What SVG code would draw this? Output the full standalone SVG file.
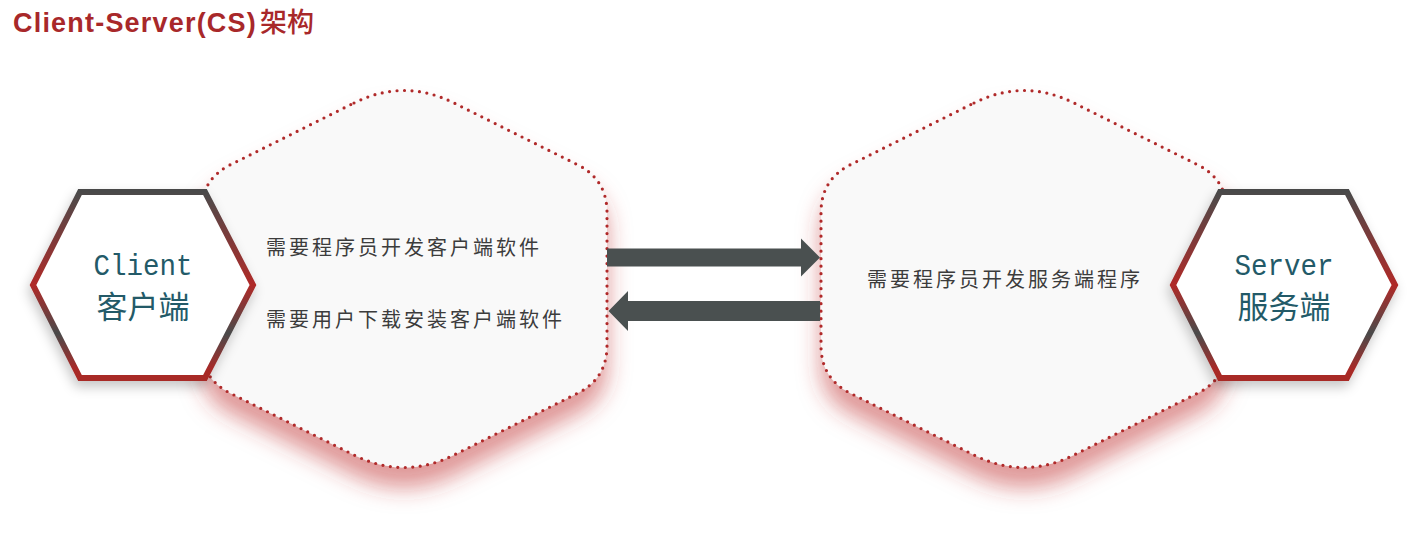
<svg xmlns="http://www.w3.org/2000/svg" width="1417" height="533" viewBox="0 0 1417 533">
  <defs>
    <style>
      .title { font-family: "Liberation Sans", "Noto Sans CJK SC", sans-serif; font-weight: bold; font-size: 27px; fill: #a8282a; }
      .titlecjk { font-family: "Noto Sans CJK SC", sans-serif; font-weight: 500; font-size: 27px; fill: #a8282a; }
      .big { fill: #f9f9f9; stroke: #b02a2a; stroke-width: 3.2; stroke-dasharray: 0 7.5; stroke-linecap: round; filter: url(#redShadow); }
      .hex { fill: #ffffff; stroke: url(#hexGrad); stroke-width: 6; stroke-linejoin: miter; filter: url(#grayShadow); }
      .lat { font-family: "Liberation Mono", "DejaVu Sans Mono", monospace; font-size: 30px; fill: #235a68; }
      .cjk { font-family: "Noto Sans CJK SC", sans-serif; font-size: 31px; fill: #235a68; }
      .desc { font-family: "Noto Sans CJK SC", sans-serif; font-size: 20px; fill: #3c3c3c; letter-spacing: 3px; }
      .arrow { fill: #4a5050; }
    </style>
    <filter id="redShadow" x="-20%" y="-20%" width="140%" height="150%">
      <feDropShadow dx="0" dy="20" stdDeviation="11" flood-color="#c0302f" flood-opacity="0.5"/>
    </filter>
    <filter id="grayShadow" x="-20%" y="-20%" width="140%" height="150%">
      <feDropShadow dx="-2" dy="6" stdDeviation="6" flood-color="#000000" flood-opacity="0.22"/>
    </filter>
    <linearGradient id="hexGrad" gradientUnits="objectBoundingBox" x1="0" y1="0" x2="0" y2="1">
      <stop offset="0" stop-color="#4a4a4a"/>
      <stop offset="0.5" stop-color="#b02a28"/>
      <stop offset="0.76" stop-color="#4a4a4a"/>
      <stop offset="0.95" stop-color="#a82a28"/>
      <stop offset="1" stop-color="#a82a28"/>
    </linearGradient>
  </defs>

  <text class="title" x="13" y="32" letter-spacing="1.2">Client-Server(CS)</text>
  <text class="titlecjk" x="260" y="32">架构</text>

  <g id="client-area">
    <path class="big" d="M354,103 Q404,78 454,103 L577.5,164.7 Q607,179.5 607,212.5 L607,345.5 Q607,378.5 577.5,393.3 L454,455 Q404,480 354,455 L230.5,393.3 Q201,378.5 201,345.5 L201,212.5 Q201,179.5 230.5,164.7 Z"/>
    <text class="desc" x="266" y="254.5">需要程序员开发客户端软件</text>
    <text class="desc" x="266" y="326.5">需要用户下载安装客户端软件</text>
  </g>

  <g id="server-area">
    <path class="big" transform="translate(620,0)" d="M354,103 Q404,78 454,103 L577.5,164.7 Q607,179.5 607,212.5 L607,345.5 Q607,378.5 577.5,393.3 L454,455 Q404,480 354,455 L230.5,393.3 Q201,378.5 201,345.5 L201,212.5 Q201,179.5 230.5,164.7 Z"/>
    <text class="desc" x="867" y="286.5">需要程序员开发服务端程序</text>
  </g>

  <g id="client">
    <polygon class="hex" points="80,192 205,192 253,285 205,378 80,378 33,285"/>
    <text class="lat" x="143" y="275" text-anchor="middle" textLength="99" lengthAdjust="spacingAndGlyphs">Client</text>
    <text class="cjk" x="143" y="318" text-anchor="middle">客户端</text>
  </g>

  <g id="server">
    <polygon class="hex" points="1220,192 1347,192 1395,285 1347,378 1220,378 1173,285"/>
    <text class="lat" x="1284" y="275" text-anchor="middle" textLength="99" lengthAdjust="spacingAndGlyphs">Server</text>
    <text class="cjk" x="1284" y="318" text-anchor="middle">服务端</text>
  </g>

  <g id="connectors">
    <polygon class="arrow" points="607,248.5 801,248.5 801,238.5 820,257.5 801,276.5 801,266.5 607,266.5"/>
    <polygon class="arrow" points="820,301 628,301 628,291 608.5,311 628,331 628,321 820,321"/>
  </g>
</svg>
